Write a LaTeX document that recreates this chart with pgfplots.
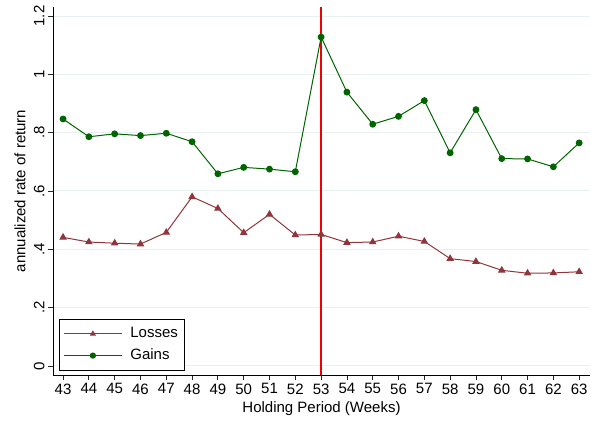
\documentclass[border=0pt]{standalone}
\usepackage{fontspec}
\setmainfont{Liberation Sans}
\usepackage{pgfplots}
\pgfplotsset{compat=1.18}

\definecolor{lossred}{RGB}{144,53,59}
\definecolor{gaingreen}{RGB}{0,100,0}
\definecolor{gridcol}{RGB}{232,240,241}
\definecolor{refred}{RGB}{240,0,0}

\newcommand{\lblfont}{\fontsize{15}{18}\selectfont}

\begin{document}
\begin{tikzpicture}
\begin{axis}[
  name=ax,
  scale only axis,
  width=537pt, height=368pt,
  xmin=42.61, xmax=63.42,
  ymin=-0.031, ymax=1.231,
  axis x line*=bottom,
  axis y line*=left,
  axis line style={black, line width=0.9pt},
  xtick={43,44,...,63},
  ytick={0,0.2,0.4,0.6,0.8,1,1.2},
  yticklabels={0,.2,.4,.6,.8,1,1.2},
  /pgf/number format/assume math mode=true,
  tick align=outside,
  major tick length=5pt,
  tick style={black!85, line width=0.8pt},
  ymajorgrids,
  grid style={gridcol, line width=1pt},
  ticklabel style={font=\lblfont},
  yticklabel style={rotate=90, anchor=south},
  label style={font=\lblfont},
  xlabel={Holding Period (Weeks)},
  ylabel={annualized rate of return},
  xlabel style={at={(axis description cs:0.5,-0.0924)}, anchor=center},
  ylabel style={at={(axis description cs:-0.0615,0.5)}, anchor=center},
  legend style={at={(0,0)}, anchor=south west, xshift=6pt, yshift=4pt,
    draw=black, line width=0.8pt, font=\lblfont,
    inner xsep=4pt, inner ysep=6pt, row sep=3.7pt, column sep=6pt,
    nodes={inner sep=2pt, text height=11pt, text depth=3pt}},
  legend cell align=left,
  legend image code/.code={%
    \draw[mark repeat=2,mark phase=2,mark size=2.6pt] plot coordinates {(0pt,0pt) (29pt,0pt) (58pt,0pt)};},
]

% reference week
\addplot[refred, line width=1.6pt, forget plot] coordinates {(53,-0.031) (53,1.231)};

\addplot[color=lossred, line width=1pt, mark=triangle*, mark size=3.4pt] coordinates {
  (43,0.441) (44,0.425) (45,0.421) (46,0.418) (47,0.458) (48,0.580)
  (49,0.540) (50,0.457) (51,0.520) (52,0.449) (53,0.451) (54,0.423)
  (55,0.425) (56,0.445) (57,0.427) (58,0.368) (59,0.358) (60,0.328)
  (61,0.318) (62,0.319) (63,0.323)};
\addlegendentry{Losses\hspace{13pt}}

\addplot[color=gaingreen, line width=1pt, mark=*, mark size=2.9pt] coordinates {
  (43,0.847) (44,0.786) (45,0.796) (46,0.790) (47,0.798) (48,0.769)
  (49,0.659) (50,0.681) (51,0.675) (52,0.666) (53,1.128) (54,0.939)
  (55,0.829) (56,0.856) (57,0.910) (58,0.731) (59,0.879) (60,0.711)
  (61,0.710) (62,0.683) (63,0.765)};
\addlegendentry{Gains}

\end{axis}
\pgfresetboundingbox
\path (ax.south west) ++(-53pt,-45pt) rectangle ++(591pt,420pt);
\end{tikzpicture}
\end{document}
